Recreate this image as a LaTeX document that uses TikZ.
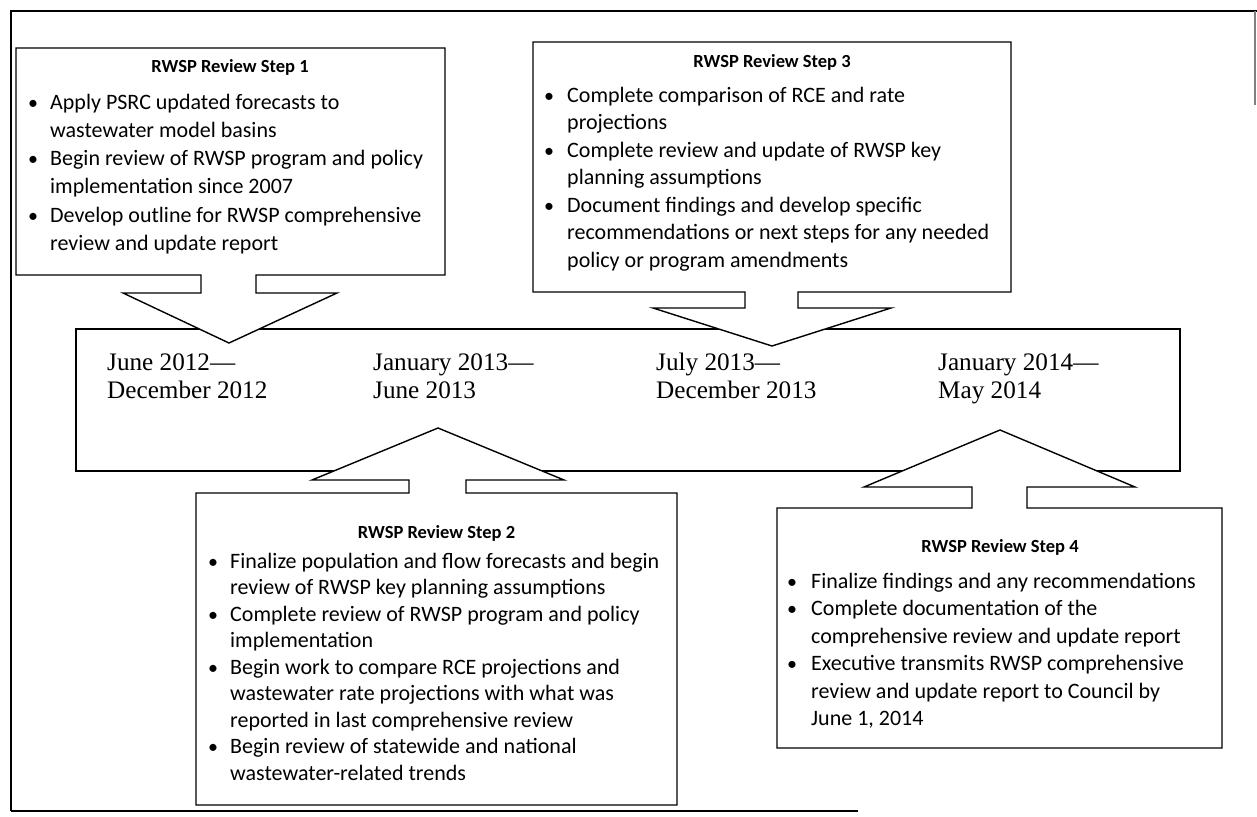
\documentclass[tikz,border=0pt]{standalone}
\usepackage{fontspec}
\newfontfamily\calfont{Carlito}
\newfontfamily\tnrfont{Liberation Serif}
\begin{document}
\begin{tikzpicture}[x=1pt,y=-1pt,
  body/.style={font=\calfont\fontsize{22}{26}\selectfont, anchor=base west, inner sep=0pt},
  bul/.style={font=\calfont\fontsize{20}{26}\selectfont, anchor=base, inner sep=0pt},
  ttl/.style={font=\calfont\bfseries\fontsize{18.5}{20}\selectfont, anchor=base, inner sep=0pt},
  datetxt/.style={font=\tnrfont\fontsize{25.2}{29}\selectfont, anchor=base west, inner sep=0pt},
  callout/.style={draw, fill=white, line width=1.4pt, line join=miter},
  frameline/.style={line width=2pt}]
\useasboundingbox (0,0) rectangle (1257,816);
% outer frame
\draw[frameline] (11,811) -- (11,11) -- (1257,11);
\draw[frameline] (11,811) -- (858,811);
\draw[line width=1.5pt, gray] (1255,11) -- (1255,105);
% timeline box
\draw[line width=1.4pt] (76,329) rectangle (1180,471);
% callout 1
\draw[callout] (16,275) -- (201,275) -- (201,293) -- (123,293) -- (229,343) -- (337,293) -- (256,293) -- (256,275) -- (445,275) -- (445,48) -- (16,48) -- cycle;
% callout 3
\draw[callout] (533,292) -- (745,292) -- (745,308) -- (653,308) -- (772,346) -- (891,308) -- (798,308) -- (798,292) -- (1011,292) -- (1011,42) -- (533,42) -- cycle;
% callout 2
\draw[callout] (196,493) -- (409,493) -- (409,480) -- (312,480) -- (438,428) -- (564,480) -- (466,480) -- (466,493) -- (677,493) -- (677,805) -- (196,805) -- cycle;
% callout 4
\draw[callout] (777,508) -- (972,508) -- (972,487) -- (864,487) -- (1000,430) -- (1135,487) -- (1027,487) -- (1027,508) -- (1222,508) -- (1222,748) -- (777,748) -- cycle;
% titles
\node[ttl] (t1) at (230,72) {RWSP Review Step 1};
\node[ttl] (t3) at (772,67) {RWSP Review Step 3};
\node[ttl] (t2) at (436.5,538) {RWSP Review Step 2};
\node[ttl] (t4) at (1000,552) {RWSP Review Step 4};
% box 1
\foreach \yy/\txt [count=\i] in {109/{Apply PSRC updated forecasts to},137/{wastewater model basins},165/{Begin review of RWSP program and policy},193/{implementation since 2007},222/{Develop outline for RWSP comprehensive},250/{review and update report}}
  \node[body] (a\i) at (50,\yy) {\txt};
\foreach \yy [count=\i] in {109,165,222} \node[bul] (ab\i) at (33,\yy) {•};
% box 3
\foreach \yy/\txt [count=\i] in {102/{Complete comparison of RCE and rate},129.5/{projections},157/{Complete review and update of RWSP key},184.5/{planning assumptions},212/{Document findings and develop specific},239.5/{recommendations or next steps for any needed},267/{policy or program amendments}}
  \node[body] (c\i) at (567,\yy) {\txt};
\foreach \yy [count=\i] in {102,157,212} \node[bul] (cb\i) at (549,\yy) {•};
% box 2
\foreach \yy/\txt [count=\i] in {568/{Finalize population and flow forecasts and begin},594.5/{review of RWSP key planning assumptions},621/{Complete review of RWSP program and policy},647.5/{implementation},674/{Begin work to compare RCE projections and},700.5/{wastewater rate projections with what was},727/{reported in last comprehensive review},753.5/{Begin review of statewide and national},780/{wastewater-related trends}}
  \node[body] (b\i) at (230,\yy) {\txt};
\foreach \yy [count=\i] in {568,621,674,753.5} \node[bul] (bb\i) at (213,\yy) {•};
% box 4
\foreach \yy/\txt [count=\i] in {588/{Finalize findings and any recommendations},615.5/{Complete documentation of the},643/{comprehensive review and update report},670.5/{Executive transmits RWSP comprehensive},698/{review and update report to Council by},725.5/{June 1, 2014}}
  \node[body] (d\i) at (811,\yy) {\txt};
\foreach \yy [count=\i] in {588,615.5,670.5} \node[bul] (db\i) at (792,\yy) {•};
% dates
\node[datetxt] (p1a) at (107,370) {June 2012—};
\node[datetxt] (p1b) at (107,398) {December 2012};
\node[datetxt] (p2a) at (373,370) {January 2013—};
\node[datetxt] (p2b) at (373,398) {June 2013};
\node[datetxt] (p3a) at (656,370) {July 2013—};
\node[datetxt] (p3b) at (656,398) {December 2013};
\node[datetxt] (p4a) at (938,370) {January 2014—};
\node[datetxt] (p4b) at (938,398) {May 2014};
\end{tikzpicture}
\end{document}
